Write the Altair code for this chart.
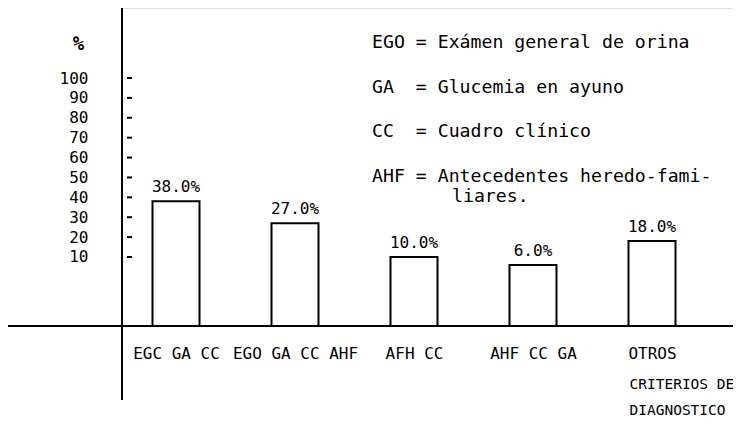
import altair as alt
import pandas as pd

# ---- data ----
categories = ["EGC GA CC", "EGO GA CC AHF", "AFH CC", "AHF CC GA", "OTROS"]
percentages = [38.0, 27.0, 10.0, 6.0, 18.0]
y_ticks = [10, 20, 30, 40, 50, 60, 70, 80, 90, 100]
legend_lines = [
    "EGO = Exámen general de orina",
    "GA\u00a0\u00a0= Glucemia en ayuno",
    "CC\u00a0\u00a0= Cuadro clínico",
    "AHF = Antecedentes heredo-fami-",
]
legend_continuation = "liares."
x_title = ["CRITERIOS DE", "DIAGNOSTICO"]

FONT = "DejaVu Sans Mono"
FS = 16
W, H = 611, 318
Y_MIN, Y_MAX = -24.7, 135.2

df = pd.DataFrame({"cat": categories, "pct": percentages})
df["label"] = [f"{v:.1f}%" for v in percentages]
ticks_df = pd.DataFrame({"pct": y_ticks})

x_axis = alt.Axis(
    title=x_title,
    domain=False,
    ticks=False,
    labelPadding=19,
    labelFont=FONT,
    labelFontSize=FS,
    labelColor="black",
    labelAngle=0,
    labelOverlap=False,
    titleFont=FONT,
    titleFontSize=14.5,
    titleFontWeight="normal",
    titleColor="black",
    titleAnchor="start",
    titleAlign="left",
    titleBaseline="top",
    titleX=507,
    titleY=51,
    titleLineHeight=26,
)
y_axis = alt.Axis(
    values=y_ticks,
    domain=False,
    ticks=False,
    grid=False,
    labelOverlap=False,
    labelPadding=34,
    labelFont=FONT,
    labelFontSize=FS,
    labelColor="black",
    title="%",
    titleAngle=0,
    titleFont=FONT,
    titleFontSize=19,
    titleFontWeight="bold",
    titleColor="black",
    titleX=-44,
    titleY=35,
    titleAlign="center",
    titleBaseline="middle",
)
x_scale = alt.Scale(type="point", range=[54, 530], padding=0)
y_scale = alt.Scale(domain=[Y_MIN, Y_MAX], nice=False, zero=False)

bars = alt.Chart(df).mark_bar(
    size=47, fill="white", stroke="black", strokeWidth=2
).encode(
    x=alt.X("cat:N", sort=categories, scale=x_scale, axis=x_axis),
    y=alt.Y("pct:Q", scale=y_scale, axis=y_axis),
    y2=alt.datum(Y_MIN),
)

labels = alt.Chart(df).mark_text(
    font=FONT, fontSize=FS, baseline="bottom", dy=-6, color="black"
).encode(
    x=alt.X("cat:N", sort=categories, scale=x_scale, axis=x_axis),
    y=alt.Y("pct:Q", scale=y_scale, axis=y_axis),
    text="label:N",
)

tick_marks = alt.Chart(ticks_df).mark_rule(color="black", strokeWidth=2).encode(
    y=alt.Y("pct:Q", scale=y_scale, axis=y_axis),
    x=alt.value(5),
    x2=alt.value(10),
)

hline = alt.Chart(pd.DataFrame({"a": [0]})).mark_rule(color="black", strokeWidth=2).encode(
    x=alt.value(-114), x2=alt.value(W), y=alt.value(H)
)
vline = alt.Chart(pd.DataFrame({"a": [0]})).mark_rule(color="black", strokeWidth=2).encode(
    x=alt.value(0), y=alt.value(0), y2=alt.value(392)
)

LFS = 18.2
legend_rows = [35, 80, 124, 169]
legend_layers = []
for txt, yy in zip(legend_lines, legend_rows):
    legend_layers.append(
        alt.Chart(pd.DataFrame({"t": [txt]})).mark_text(
            font=FONT, fontSize=LFS, align="left", baseline="middle", color="black"
        ).encode(x=alt.value(250), y=alt.value(yy), text="t:N")
    )
legend_layers.append(
    alt.Chart(pd.DataFrame({"t": [legend_continuation]})).mark_text(
        font=FONT, fontSize=LFS, align="left", baseline="middle", color="black"
    ).encode(x=alt.value(330), y=alt.value(189), text="t:N")
)

chart = alt.layer(bars, labels, tick_marks, hline, vline, *legend_layers).properties(
    width=W,
    height=H,
    autosize=alt.AutoSizeParams(type="none"),
    padding={"left": 114, "top": 0, "right": 0, "bottom": 95},
).configure_view(stroke=None).configure_axis(labelOverlap=False).configure(background="white")

chart.save("out.html", embed_options={"renderer": "svg", "actions": False})
